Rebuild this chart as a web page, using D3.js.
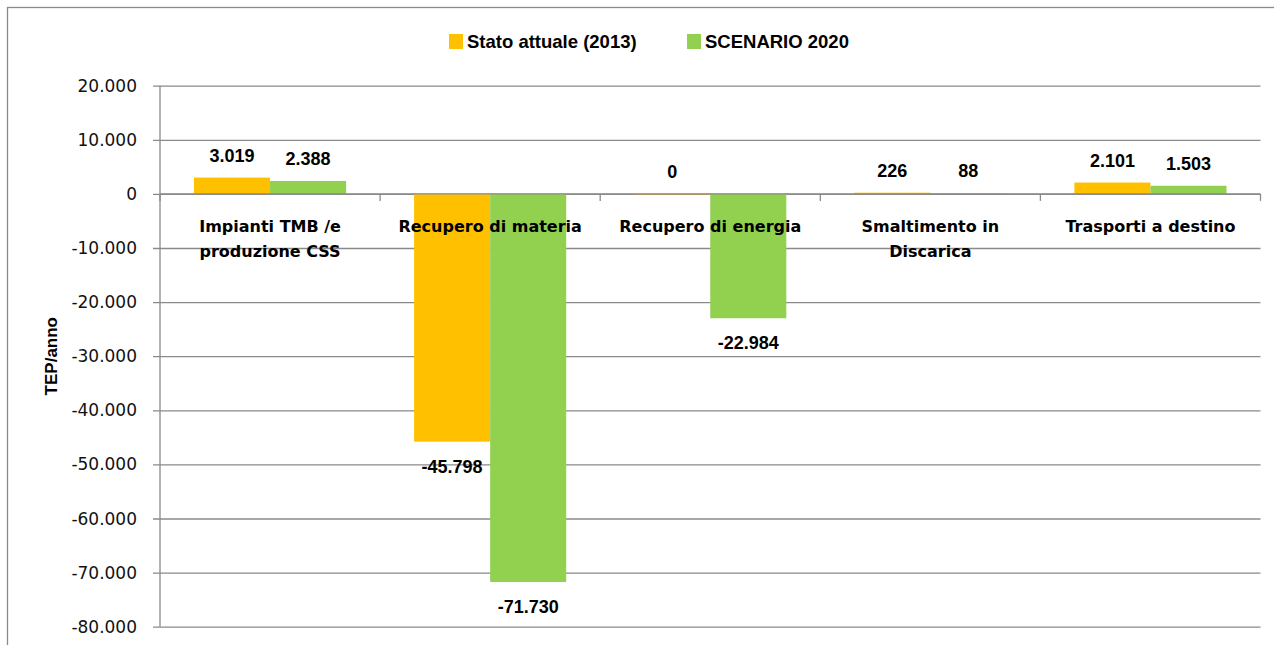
<!DOCTYPE html>
<html>
<head>
<meta charset="utf-8">
<script src="https://cdn.jsdelivr.net/npm/d3@7/dist/d3.min.js"></script>
<style>
  html, body { margin: 0; padding: 0; background: #fff; }
  svg { display: block; }
</style>
</head>
<body>
<svg id="chart" width="1274" height="645"></svg>
<script>
// Categories along the x axis (each label split into display lines)
const categories = [
  "Impianti TMB /e produzione CSS",
  "Recupero di materia",
  "Recupero di energia",
  "Smaltimento in Discarica",
  "Trasporti a destino"
];
const categoryLines = [
  ["Impianti TMB /e", "produzione CSS"],
  ["Recupero di materia"],
  ["Recupero di energia"],
  ["Smaltimento in", "Discarica"],
  ["Trasporti a destino"]
];
// Series
const seriesNames = ["Stato attuale (2013)", "SCENARIO 2020"];
const stato2013 = [3019, -45798, 0, 226, 2101];
const scenario2020 = [2388, -71730, -22984, 88, 1503];
// Y axis ticks
const yTicks = [20000, 10000, 0, -10000, -20000, -30000, -40000, -50000, -60000, -70000, -80000];
const yTitle = "TEP/anno";

const colors = ["#FFC000", "#92D050"];
const series = [stato2013, scenario2020];

const it = d3.formatLocale({ decimal: ",", thousands: ".", grouping: [3], currency: ["€", ""], minus: "-" });
const fmt = it.format(",d");

const svg = d3.select("#chart");
const gridColor = "#8a8a8a";

// chart frame
svg.append("rect")
  .attr("x", 7.5).attr("y", 7.5)
  .attr("width", 1400).attr("height", 800)
  .attr("fill", "none").attr("stroke", gridColor).attr("stroke-width", 1.3);

const plotLeft = 160, plotRight = 1260.5;
const y = d3.scaleLinear().domain([-80000, 20000]).range([626.7, 85.7]);
const x0 = d3.scaleBand().domain(categories).range([plotLeft, plotRight]).paddingInner(0).paddingOuter(0);
const x1 = d3.scaleBand().domain(seriesNames).range([0, x0.bandwidth()]).paddingInner(0).paddingOuter(0.447);

// horizontal gridlines with tick marks, via axis
const yAxis = d3.axisLeft(y).tickValues(yTicks).tickSize(-(plotRight - plotLeft)).tickFormat("");
const gy = svg.append("g").attr("transform", `translate(${plotLeft},0)`).call(yAxis);
gy.select(".domain").remove();
gy.selectAll(".tick line").attr("stroke", gridColor).attr("stroke-width", 1.3).attr("x1", -7);

// y tick labels
svg.append("g").selectAll("text")
  .data(yTicks).join("text")
  .attr("x", 137).attr("y", d => y(d) + 6)
  .attr("text-anchor", "end")
  .attr("font-family", "DejaVu Sans")
  .attr("font-size", 17)
  .attr("fill", "#111")
  .text(d => fmt(d));

// y axis line
svg.append("line")
  .attr("x1", plotLeft).attr("x2", plotLeft)
  .attr("y1", y(20000)).attr("y2", y(-80000))
  .attr("stroke", gridColor).attr("stroke-width", 1.3);

// bars
const groups = svg.append("g").selectAll("g")
  .data(categories).join("g")
  .attr("transform", c => `translate(${x0(c)},0)`);

groups.selectAll("rect")
  .data((c, i) => series.map((s, k) => ({ k, v: s[i] })))
  .join("rect")
  .attr("x", d => x1(seriesNames[d.k]))
  .attr("width", x1.bandwidth())
  .attr("y", d => y(Math.max(0, d.v)))
  .attr("height", d => Math.max(Math.abs(y(d.v) - y(0)), 0.6))
  .attr("fill", d => colors[d.k]);

// value labels
groups.selectAll("text.val")
  .data((c, i) => series.map((s, k) => ({ k, v: s[i] })))
  .join("text")
  .attr("class", "val")
  .attr("x", d => x1(seriesNames[d.k]) + x1.bandwidth() / 2)
  .attr("y", d => d.v < 0 ? y(d.v) + 31 : y(d.v) - 16)
  .attr("text-anchor", "middle")
  .attr("font-family", "Liberation Sans")
  .attr("font-weight", "bold")
  .attr("font-size", 18)
  .attr("fill", "#000")
  .text(d => fmt(d.v));

// x axis along zero
svg.append("line")
  .attr("x1", plotLeft).attr("x2", plotRight)
  .attr("y1", y(0)).attr("y2", y(0))
  .attr("stroke", gridColor).attr("stroke-width", 1.3);
const catTicks = categories.map(c => x0(c)).concat([plotRight]);
svg.append("g").selectAll("line")
  .data(catTicks).join("line")
  .attr("x1", d => d).attr("x2", d => d)
  .attr("y1", y(0)).attr("y2", y(0) + 7)
  .attr("stroke", gridColor).attr("stroke-width", 1.3);

// category labels
svg.append("g").selectAll("text")
  .data(categories).join("text")
  .attr("x", c => x0(c) + x0.bandwidth() / 2)
  .attr("y", y(0) + 38.5)
  .attr("text-anchor", "middle")
  .attr("font-family", "DejaVu Sans")
  .attr("font-weight", "bold")
  .attr("font-size", 16)
  .attr("fill", "#000")
  .each(function (c, i) {
    d3.select(this).selectAll("tspan")
      .data(categoryLines[i]).join("tspan")
      .attr("x", x0(c) + x0.bandwidth() / 2)
      .attr("dy", (d, j) => j === 0 ? 0 : 24.5)
      .text(d => d);
  });

// y axis title
svg.append("text")
  .attr("transform", `translate(57,${(y(20000) + y(-80000)) / 2}) rotate(-90)`)
  .attr("text-anchor", "middle")
  .attr("font-family", "Liberation Sans")
  .attr("font-weight", "bold")
  .attr("font-size", 17)
  .attr("fill", "#000")
  .text(yTitle);

// legend
const legendItems = [
  { name: seriesNames[0], color: colors[0], x: 449 },
  { name: seriesNames[1], color: colors[1], x: 687 }
];
const lg = svg.append("g").selectAll("g").data(legendItems).join("g")
  .attr("transform", d => `translate(${d.x},34)`);
lg.append("rect").attr("width", 14).attr("height", 15).attr("fill", d => d.color);
lg.append("text")
  .attr("x", 18).attr("y", 14)
  .attr("font-family", "Liberation Sans")
  .attr("font-weight", "bold")
  .attr("font-size", 18.5)
  .attr("fill", "#000")
  .text(d => d.name);
</script>
</body>
</html>
